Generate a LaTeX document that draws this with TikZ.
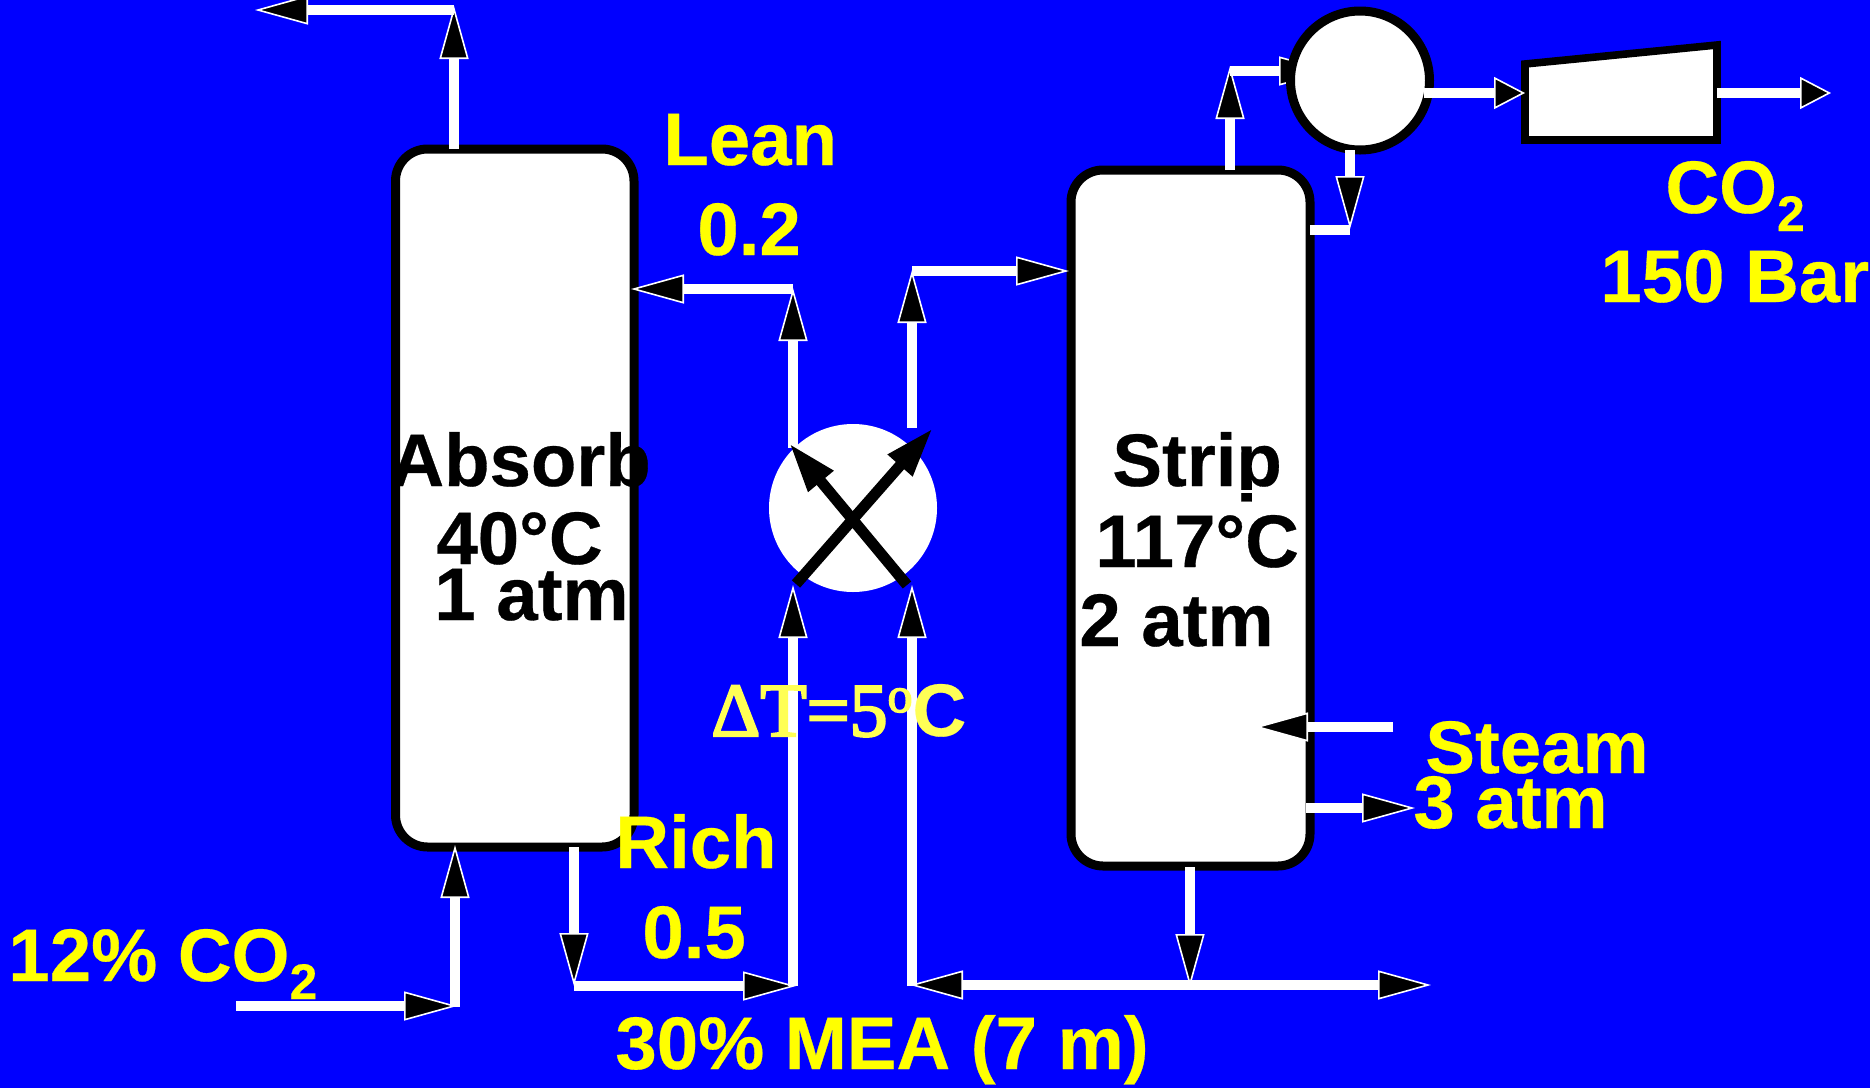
\documentclass[tikz,border=0pt]{standalone}
\usepackage{fontspec}
\setmainfont{Liberation Sans}[BoldFeatures={FakeBold=0.4}]
\newfontfamily\serifface{Liberation Serif}[FakeBold=3]
\usetikzlibrary{arrows.meta}
\definecolor{bgblue}{HTML}{0000FF}
\definecolor{labelyellow}{HTML}{FFFF00}
\definecolor{paleyellow}{HTML}{FFFF55}
\newcommand{\subtwo}{\raisebox{-9pt}{\fontsize{25}{27}\selectfont 2}}
\tikzset{
  x=0.5pt,y=-0.5pt,
  column/.style={draw=black,fill=white,line width=4.5pt,rounded corners=16pt,rectangle,inner sep=0pt,outer sep=0pt,anchor=north west},
  unitshape/.style={draw=black,fill=white,line width=3.8pt,line join=miter},
  stream/.style={draw=white,line width=4.7pt,shorten >=-1pt},
  longhead/.style={-{Triangle[length=26.5pt,width=14.5pt,fill=black,line width=.8pt]}},
  shorthead/.style={-{Triangle[length=15.5pt,width=16pt,fill=black,line width=.8pt]}},
  blacktext/.style={anchor=base west,inner sep=0pt,text=black,font=\fontsize{37.2}{40}\selectfont\bfseries},
  yellowtext/.style={anchor=base west,inner sep=0pt,text=labelyellow,font=\fontsize{37.2}{40}\selectfont\bfseries},
  crossarrow/.style={draw=black,line width=5.5pt,-{Triangle[length=25pt,width=15pt,fill=black]}},
}
\begin{document}
\begin{tikzpicture}
\useasboundingbox (0,0) rectangle (1870,1088);
\fill[bgblue] (0,0) rectangle (1870,1088);

% Columns
\node[column,minimum width=119.25pt,minimum height=349pt] (absorber) at (395.5,149) {};
\node[column,minimum width=119.5pt,minimum height=348pt] (stripper) at (1071,170) {};

% Named stream points
\coordinate (absTop) at (454,149);
\coordinate (offCorner) at (454,8);
\coordinate (offCorner2) at (454,10);
\coordinate (offEnd) at (257,10);
\coordinate (gasStart) at (236,1006);
\coordinate (gasCorner) at (455,1006);
\coordinate (gasRise) at (455,1007);
\coordinate (absIn) at (455,847);
\coordinate (richStart) at (574,847);
\coordinate (richCornerA) at (574,984);
\coordinate (richCornerB) at (574,986);
\coordinate (richCornerC) at (794,986);
\coordinate (richCornerD) at (793,986);
\coordinate (hxInA) at (793,587);
\coordinate (leanOutA) at (793,448);
\coordinate (leanCorner) at (793,290);
\coordinate (leanCorner2) at (793,289);
\coordinate (absLean) at (633,289);
\coordinate (hxOutB) at (912,428);
\coordinate (feedCorner) at (912,272);
\coordinate (feedCorner2) at (912,271);
\coordinate (stripFeed) at (1067,271);
\coordinate (stripBottom) at (1190,867);
\coordinate (mixJoint) at (1190,985);
\coordinate (mixLeft) at (912,985);
\coordinate (mixRight) at (1429,985);
\coordinate (hxInB) at (912,587);
\coordinate (mixBottom) at (912,986);
\coordinate (stripTop) at (1230,170);
\coordinate (ovhCorner) at (1230,68);
\coordinate (ovhStart) at (1230,71);
\coordinate (condIn) at (1330,71);
\coordinate (condBottom) at (1350,150);
\coordinate (refluxCorner) at (1350,227);
\coordinate (refluxEnd) at (1350,230);
\coordinate (refluxIn) at (1310,230);
\coordinate (condRight) at (1424,93);
\coordinate (compIn) at (1523,93);
\coordinate (compRight) at (1717,93);
\coordinate (compOut) at (1829,93);
\coordinate (steamStart) at (1393,727);
\coordinate (steamIn) at (1257,727);
\coordinate (condensate) at (1306,808);
\coordinate (condOut) at (1413,808);

% Overhead into condenser, then condenser on top
\draw[stream,longhead] (stripTop) -- (ovhCorner);
\draw[stream,longhead] (ovhStart) -- (condIn);
\node[circle,draw=black,fill=white,line width=4.5pt,minimum size=69.5pt,inner sep=0pt,outer sep=0pt] (condenser) at (1360,80.5) {};

% Compressor
\draw[unitshape] (1525,64) -- (1717,45) -- (1717,140) -- (1525,140) -- cycle;

% Heat exchanger
\node[circle,fill=white,minimum size=84pt,inner sep=0pt,outer sep=0pt] (hx) at (853,508) {};

% Streams
\draw[stream,longhead] (absTop) -- (offCorner);
\draw[stream,longhead] (offCorner2) -- (offEnd);
\draw[stream,longhead] (gasStart) -- (gasCorner);
\draw[stream,longhead] (gasRise) -- (absIn);
\draw[stream,longhead] (richStart) -- (richCornerA);
\draw[stream,longhead] (richCornerB) -- (richCornerC);
\draw[stream,longhead] (richCornerD) -- (hxInA);
\draw[stream,longhead] (leanOutA) -- (leanCorner);
\draw[stream,longhead] (leanCorner2) -- (absLean);
\draw[stream,longhead] (hxOutB) -- (feedCorner);
\draw[stream,longhead] (feedCorner2) -- (stripFeed);
\draw[stream,longhead] (stripBottom) -- (mixJoint);
\draw[stream,longhead] (mixJoint) -- (mixLeft);
\draw[stream,longhead] (mixJoint) -- (mixRight);
\draw[stream,longhead] (mixBottom) -- (hxInB);
\draw[stream,longhead] (condBottom) -- (refluxCorner);
\draw[draw=white,line width=4.7pt] (refluxEnd) -- (refluxIn);
\draw[stream,shorthead] (condRight) -- (compIn);
\draw[stream,shorthead] (compRight) -- (compOut);
\draw[stream,longhead] (steamStart) -- (steamIn);
\draw[stream,longhead] (condensate) -- (condOut);

% Heat exchanger cross
\coordinate (crossA) at (796,584);
\coordinate (crossATip) at (933,428);
\coordinate (crossB) at (907,585);
\coordinate (crossBTip) at (789,443);
\draw[crossarrow] (crossA) -- (crossATip);
\draw[crossarrow] (crossB) -- (crossBTip);

% Labels
\node[blacktext] (tAbsorb) at (390,486) {Absorb};
\node[blacktext] (tAbsT) at (436,564) {40°C};
\node[blacktext] (tAbsP) at (434,620) {1 atm};
\node[blacktext] (tStrip) at (1112,486) {Strip};
\fill[white] (1238,489.5) rectangle (1254,493);
\node[blacktext] (tStripT) at (1095,567) {117°C};
\node[blacktext] (tStripP) at (1079,646) {2 atm};

\node[yellowtext] (tLean) at (663,165) {Lean};
\node[yellowtext] (tLeanV) at (697,255) {0.2};
\node[yellowtext] (tRich) at (615,868) {Rich};
\node[yellowtext] (tRichV) at (642,958) {0.5};
\node[yellowtext] (tMEA) at (615,1069) {30\% MEA (7 m)};
\node[yellowtext] (tGas) at (8,981) {12\% CO\subtwo};
\node[yellowtext] (tCO) at (1665,213) {CO\subtwo};
\node[yellowtext] (tBar) at (1600,302) {150 Bar};
\node[yellowtext] (tSteam) at (1425,773) {Steam};
\node[yellowtext] (tSteamP) at (1413,828) {3 atm};
\node[yellowtext,text=paleyellow] (tDelta) at (711,736) {{\serifface\mdseries\fontsize{38}{40}\selectfont ΔT=5\raisebox{12pt}{\fontsize{25}{27}\selectfont o}}C};
\end{tikzpicture}
\end{document}
